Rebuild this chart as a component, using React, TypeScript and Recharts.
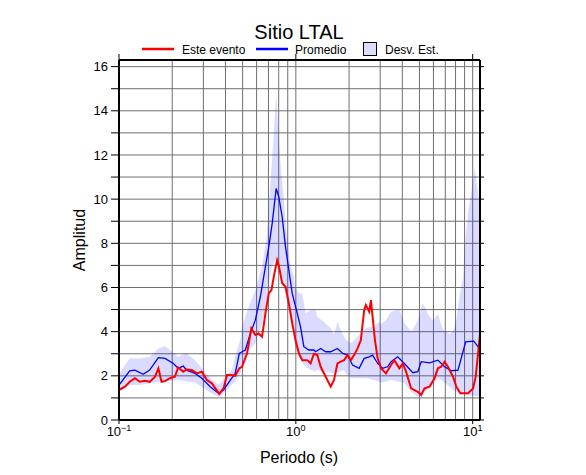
import { Area, CartesianGrid, ComposedChart, Line, XAxis, YAxis } from 'recharts';

// Este evento (red)
const eventPeriods = [
  0.1, 0.108, 0.115, 0.123, 0.131, 0.14, 0.149, 0.16, 0.167, 0.174,
  0.182, 0.194, 0.207, 0.216, 0.231, 0.241, 0.258, 0.276, 0.294, 0.314,
  0.335, 0.369, 0.39, 0.408, 0.435, 0.454, 0.479, 0.496, 0.53, 0.56,
  0.59, 0.616, 0.644, 0.673, 0.703, 0.728, 0.75, 0.784, 0.801, 0.837,
  0.874, 0.913, 0.954, 0.996, 1.04, 1.087, 1.161, 1.212, 1.265, 1.323,
  1.381, 1.475, 1.574, 1.644, 1.719, 1.795, 1.874, 1.959, 2.046, 2.136,
  2.233, 2.332, 2.435, 2.489, 2.599, 2.657, 2.717, 2.801, 2.901, 3.03,
  3.234, 3.452, 3.604, 3.848, 4.023, 4.201, 4.486, 4.897, 5.113, 5.339,
  5.7, 6.083, 6.359, 6.64, 6.933, 7.247, 7.738, 8.079, 8.513, 9.417,
  10.05, 10.4, 10.73, 11.0,
];
const eventAmps = [
  1.36, 1.51, 1.73, 1.89, 1.73, 1.78, 1.73, 1.96, 2.34, 1.73,
  1.76, 1.89, 1.96, 2.38, 2.19, 2.29, 2.26, 2.11, 2.19, 1.81,
  1.66, 1.18, 1.43, 2.04, 2.04, 2.0, 2.34, 2.41, 3.02, 4.15,
  3.85, 3.92, 3.77, 4.83, 5.73, 5.88, 6.48, 7.24, 7.01, 6.19,
  6.03, 5.28, 4.38, 3.62, 3.02, 2.71, 2.71, 2.56, 3.0, 2.94,
  2.41, 1.96, 1.51, 1.81, 2.56, 2.64, 2.71, 2.94, 2.71, 2.94,
  3.24, 3.62, 4.98, 5.2, 4.9, 5.43, 4.67, 3.62, 2.79, 2.34,
  2.11, 2.49, 2.71, 2.34, 2.56, 2.19, 1.43, 1.28, 1.13, 1.43,
  1.51, 1.89, 2.34, 2.41, 2.64, 2.41, 1.96, 1.51, 1.21, 1.21,
  1.43, 1.96, 3.02, 3.9,
];

// Promedio (blue)
const meanPeriods = [
  0.1, 0.115, 0.123, 0.137, 0.149, 0.167, 0.182, 0.203, 0.216, 0.231,
  0.241, 0.269, 0.294, 0.328, 0.365, 0.39, 0.426, 0.454, 0.479, 0.518,
  0.553, 0.59, 0.63, 0.673, 0.703, 0.735, 0.774, 0.801, 0.837, 0.874,
  0.913, 0.954, 1.019, 1.063, 1.11, 1.185, 1.265, 1.294, 1.381, 1.475,
  1.574, 1.719, 1.835, 1.959, 2.092, 2.28, 2.435, 2.599, 2.717, 2.901,
  3.097, 3.306, 3.452, 3.768, 4.108, 4.587, 4.897, 5.113, 5.7, 6.359,
  6.933, 7.568, 8.26, 9.124, 10.13, 10.73, 11.0,
];
const meanAmps = [
  1.58, 2.23, 2.26, 2.07, 2.26, 2.82, 2.79, 2.56, 2.34, 2.44,
  2.26, 2.11, 1.89, 1.51, 1.21, 1.36, 1.81, 2.11, 3.02, 3.17,
  3.92, 4.52, 5.58, 6.94, 7.84, 8.9, 10.48, 10.1, 9.2, 7.84,
  6.79, 5.73, 4.83, 4.22, 3.32, 3.17, 3.17, 3.09, 3.24, 3.09,
  3.09, 3.24, 3.02, 2.94, 2.49, 2.34, 2.79, 2.86, 2.94, 2.56,
  2.34, 2.41, 2.64, 2.86, 2.56, 2.14, 2.19, 2.64, 2.59, 2.71,
  2.41, 2.23, 2.26, 3.54, 3.57, 3.32, 3.15,
];

// Desv. Est. (band)
const bandPeriods = [
  0.1, 0.115, 0.131, 0.149, 0.167, 0.182, 0.194, 0.216, 0.241, 0.269,
  0.294, 0.328, 0.365, 0.39, 0.435, 0.454, 0.485, 0.496, 0.541, 0.59,
  0.644, 0.688, 0.703, 0.734, 0.774, 0.8, 0.819, 0.837, 0.874, 0.913,
  0.933, 0.974, 0.996, 1.04, 1.087, 1.135, 1.21, 1.29, 1.32, 1.44,
  1.57, 1.64, 1.72, 1.79, 1.87, 1.92, 2.05, 2.23, 2.49, 2.66,
  2.77, 2.96, 3.03, 3.23, 3.45, 3.85, 4.11, 4.49, 4.9, 5.23,
  5.58, 5.96, 6.36, 6.79, 7.4, 7.74, 8.08, 8.43, 8.82, 9.0,
  9.42, 10.26, 10.63, 11.0,
];
const bandLow = [
  1.28, 1.58, 1.58, 1.66, 1.72, 1.75, 1.78, 1.8, 1.76, 1.7,
  1.51, 1.25, 1.05, 1.21, 1.58, 1.75, 2.1, 2.41, 3.17, 3.47,
  4.38, 5.3, 6.19, 7.0, 7.3, 7.2, 6.94, 6.4, 5.73, 5.0,
  4.52, 3.8, 3.32, 2.9, 2.6, 2.41, 2.26, 2.2, 2.26, 2.19,
  2.15, 2.11, 2.15, 2.2, 2.26, 2.1, 1.89, 1.89, 1.89, 1.85,
  1.8, 1.73, 1.7, 1.73, 1.81, 1.73, 1.66, 1.28, 1.05, 1.2,
  1.4, 1.6, 1.89, 1.75, 1.5, 1.36, 1.28, 1.21, 1.17, 1.15,
  1.13, 1.09, 1.07, 1.05,
];
const bandHigh = [
  2.11, 2.79, 2.79, 2.86, 3.24, 3.35, 3.17, 2.86, 3.02, 2.71,
  2.34, 1.89, 1.58, 1.81, 2.26, 2.9, 3.62, 4.22, 5.13, 5.88,
  6.94, 8.45, 9.8, 11.76, 14.78, 12.82, 11.6, 10.86, 9.05, 7.54,
  7.0, 6.48, 6.0, 5.73, 5.73, 4.83, 4.98, 5.0, 4.67, 4.45,
  4.15, 3.85, 4.45, 4.07, 3.8, 3.62, 3.47, 3.77, 4.15, 4.22,
  4.22, 4.45, 4.35, 4.5, 4.9, 5.0, 4.4, 4.0, 4.5, 5.3,
  4.8, 4.5, 4.8, 4.1, 3.9, 4.0, 4.5, 5.6, 6.5, 7.8,
  9.4, 11.4, 10.5, 9.6,
];

const xTicks = [
  0.1, 0.2, 0.3, 0.4, 0.5, 0.6, 0.7, 0.8, 0.9,
  1, 2, 3, 4, 5, 6, 7, 8, 9, 10,
];
const decadeTicks = [0.1, 1, 10];
const yTicks = [0, 1, 2, 3, 4, 5, 6, 7, 8, 9, 10, 11, 12, 13, 14, 15, 16];

const X_DOMAIN: [number, number] = [0.1, 11];
const Y_DOMAIN: [number, number] = [0, 16.3];
const FONT = '"Liberation Sans", Arial, Helvetica, sans-serif';

const eventData = eventPeriods.map((period, i) => ({ period, amp: eventAmps[i] }));
const meanData = meanPeriods.map((period, i) => ({ period, amp: meanAmps[i] }));
const bandData = bandPeriods.map((period, i) => ({ period, range: [bandLow[i], bandHigh[i]] }));

function PeriodTick(props: any) {
  const { x, y, payload } = props;
  const v = payload.value as number;
  const exp = Math.round(Math.log10(v));
  if (Math.abs(v - Math.pow(10, exp)) > 1e-9) return <g />;
  const expText = exp < 0 ? `\u2212${-exp}` : String(exp);
  return (
    <g>
      <line x1={x} x2={x} y1={y} y2={y + 4} stroke="#000" />
      <text x={x} y={y + 16} textAnchor="middle" fontSize={13} fill="#000" fontFamily={FONT}>
        10
        <tspan dy={-5} fontSize={9}>
          {expText}
        </tspan>
      </text>
    </g>
  );
}

export default function App() {
  return (
    <div
      style={{
        position: 'absolute',
        left: 0,
        top: 0,
        width: 586,
        height: 475,
        background: '#fff',
        fontFamily: FONT,
      }}
    >
      <ComposedChart width={586} height={475} margin={{ top: 50, right: 96, bottom: 15, left: 69 }}>
        <CartesianGrid stroke="#707070" strokeWidth={1} />
        <XAxis
          dataKey="period"
          type="number"
          scale="log"
          domain={X_DOMAIN}
          allowDataOverflow
          ticks={xTicks}
          interval={0}
          tick={<PeriodTick />}
          tickLine={false}
          tickSize={0}
          tickMargin={0}
          axisLine={{ stroke: '#000', strokeWidth: 2 }}
          height={40}
        />
        <XAxis
          xAxisId="top"
          orientation="top"
          dataKey="period"
          type="number"
          scale="log"
          domain={X_DOMAIN}
          allowDataOverflow
          ticks={decadeTicks}
          interval={0}
          tickFormatter={() => ''}
          tickSize={6}
          tickLine={{ stroke: '#000' }}
          axisLine={{ stroke: '#000', strokeWidth: 2 }}
          height={10}
        />
        <YAxis
          type="number"
          domain={Y_DOMAIN}
          allowDataOverflow
          ticks={yTicks}
          interval={0}
          tickFormatter={(v: number) => (v % 2 === 0 ? String(v) : '')}
          tick={{ fontSize: 13, fill: '#000', fontFamily: FONT }}
          tickLine={{ stroke: '#000' }}
          tickSize={8}
          tickMargin={3}
          axisLine={{ stroke: '#000', strokeWidth: 2 }}
          width={50}
        />
        <YAxis
          yAxisId="right"
          orientation="right"
          type="number"
          domain={Y_DOMAIN}
          allowDataOverflow
          ticks={yTicks}
          interval={0}
          tickFormatter={() => ''}
          tickLine={{ stroke: '#000' }}
          tickSize={4}
          axisLine={{ stroke: '#000', strokeWidth: 2 }}
          width={10}
        />
        <Area
          data={bandData}
          dataKey="range"
          type="linear"
          stroke="none"
          fill="#0000ff"
          fillOpacity={0.14}
          isAnimationActive={false}
        />
        <Line
          data={meanData}
          dataKey="amp"
          type="linear"
          stroke="#0000ff"
          strokeWidth={1.3}
          dot={false}
          isAnimationActive={false}
        />
        <Line
          data={eventData}
          dataKey="amp"
          type="linear"
          stroke="#ff0000"
          strokeWidth={2}
          dot={false}
          isAnimationActive={false}
        />
      </ComposedChart>
      <svg
        width={586}
        height={475}
        style={{ position: 'absolute', left: 0, top: 0, pointerEvents: 'none' }}
        fontFamily={FONT}
      >
        <text x={299} y={39} textAnchor="middle" fontSize={20} fill="#000">
          Sitio LTAL
        </text>
        <line x1={142} x2={174} y1={49} y2={49} stroke="#ff0000" strokeWidth={2.5} />
        <text x={182} y={53.5} fontSize={12} fill="#000">
          Este evento
        </text>
        <line x1={256} x2={288} y1={49} y2={49} stroke="#0000ff" strokeWidth={2.5} />
        <text x={295} y={53.5} fontSize={12} fill="#000">
          Promedio
        </text>
        <rect x={363.5} y={42.5} width={13} height={13} fill="#dcdcff" stroke="#000" strokeWidth={1} />
        <text x={385} y={53.5} fontSize={12} fill="#000">
          Desv. Est.
        </text>
        <text x={299} y={463} textAnchor="middle" fontSize={16} fill="#000">
          Periodo (s)
        </text>
        <text x={85} y={240} textAnchor="middle" fontSize={16} fill="#000" transform="rotate(-90 85 240)">
          Amplitud
        </text>
      </svg>
    </div>
  );
}
